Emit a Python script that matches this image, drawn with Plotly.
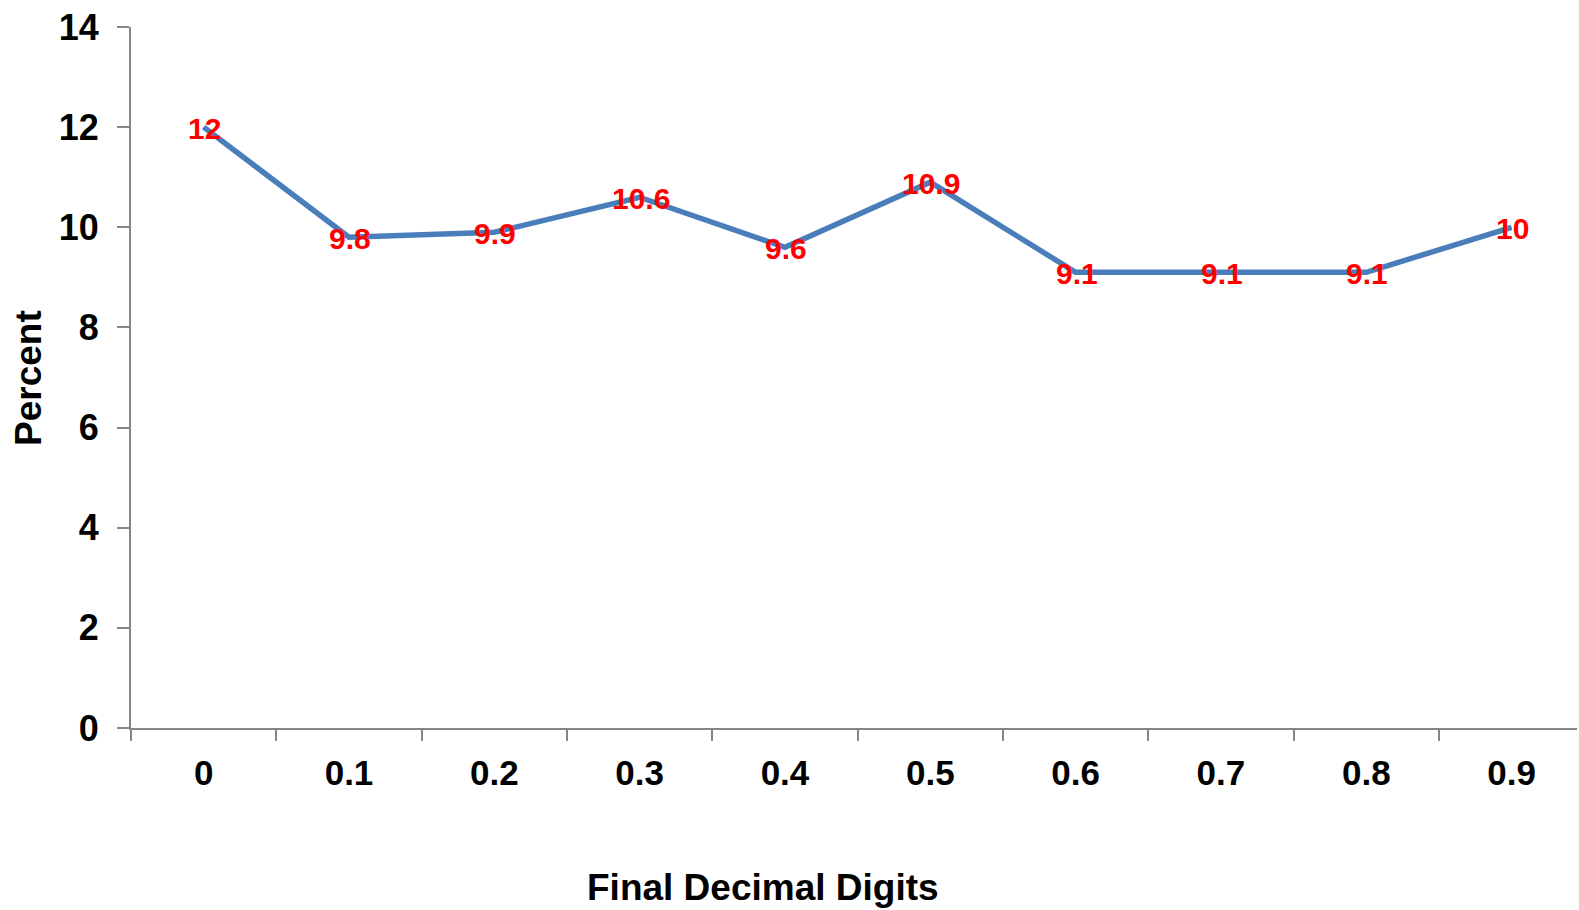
import plotly.graph_objects as go

# Share of final decimal digits
digits = ["0", "0.1", "0.2", "0.3", "0.4", "0.5", "0.6", "0.7", "0.8", "0.9"]
percent = [12, 9.8, 9.9, 10.6, 9.6, 10.9, 9.1, 9.1, 9.1, 10]
y_ticks = [0, 2, 4, 6, 8, 10, 12, 14]

FONT = "Arial, 'Liberation Sans', sans-serif"
AXIS_GREY = "#868686"

fig = go.Figure()
fig.add_trace(go.Scatter(
    x=digits,
    y=percent,
    mode="lines",
    line=dict(color="#4A7EBB", width=5.5),
    cliponaxis=False,
    showlegend=False,
))

# value labels centred on each point (x given as category index)
labels = [
    dict(x=i, y=v, text=f"<b>{v:g}</b>", showarrow=False,
         xanchor="center", yanchor="middle", yshift=-1, xshift=1,
         font=dict(family=FONT, size=30, color="#FF0000"))
    for i, v in enumerate(percent)
]

fig.update_layout(
    width=1579,
    height=910,
    margin=dict(l=131, r=2, t=27, b=182),
    paper_bgcolor="white",
    plot_bgcolor="white",
    font=dict(family=FONT, color="black"),
    annotations=labels + [
        dict(text="<b>Final Decimal Digits</b>", xref="paper", yref="paper",
             x=(763 - 131) / (1577 - 131), y=-(887 - 728) / 701,
             xanchor="center", yanchor="middle", showarrow=False,
             font=dict(family=FONT, size=37, color="black")),
        dict(text="<b>Percent</b>", xref="paper", yref="paper",
             x=-(131 - 29) / (1577 - 131), y=(728 - 378) / 701,
             xanchor="center", yanchor="middle", showarrow=False, textangle=-90,
             font=dict(family=FONT, size=37, color="black")),
    ],
)

fig.update_xaxes(
    type="category",
    range=[-0.5, 9.45],
    showline=True, linecolor=AXIS_GREY, linewidth=2,
    ticks="outside", tickson="boundaries", ticklen=11, tickwidth=2, tickcolor=AXIS_GREY,
    tickfont=dict(family=FONT, size=35, color="black", weight="bold"),
    ticklabelstandoff=13,
    showgrid=False, zeroline=False,
)
fig.update_yaxes(
    range=[0, 14],
    tickvals=y_ticks,
    showline=True, linecolor=AXIS_GREY, linewidth=2,
    ticks="outside", ticklen=12, tickwidth=2, tickcolor=AXIS_GREY,
    tickfont=dict(family=FONT, size=36, color="black", weight="bold"),
    ticklabelstandoff=11,
    showgrid=False, zeroline=False,
)

fig.write_html("out.html")
